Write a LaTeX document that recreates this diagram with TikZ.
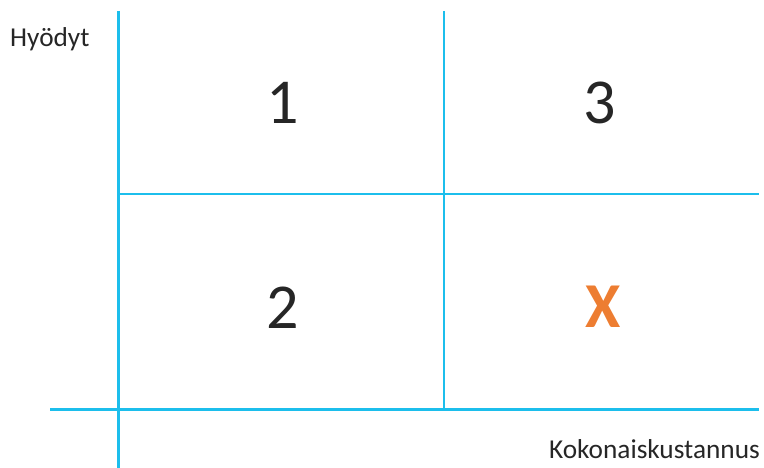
\documentclass[tikz,border=0pt]{standalone}
\usepackage{fontspec}
\setmainfont{Carlito}
\definecolor{axiscyan}{RGB}{28,190,236}
\definecolor{xorange}{RGB}{237,125,49}
\definecolor{txt}{RGB}{38,38,38}
\begin{document}
\begin{tikzpicture}[x=1pt,y=-1pt,
  gridline/.style={draw=axiscyan,line width=2.6pt},
  lbl/.style={inner sep=0pt,text=txt,font=\fontsize{27.3}{30}\selectfont},
  num/.style={inner sep=0pt,anchor=base,text=txt,font=\fontsize{64}{70}\selectfont}]
\useasboundingbox (0,0) rectangle (764,468);
\coordinate (v1t) at (118.5,11);
\coordinate (v1b) at (118.5,468);
\coordinate (v2t) at (444,11);
\coordinate (v2b) at (444,409.5);
\coordinate (h1l) at (118.5,194);
\coordinate (h1r) at (759,194);
\coordinate (h2l) at (50,409.5);
\coordinate (h2r) at (759,409.5);
\draw[gridline] (v1t) -- (v1b);
\draw[gridline] (v2t) -- (v2b);
\draw[gridline] (h1l) -- (h1r);
\draw[gridline] (h2l) -- (h2r);
\node[lbl,anchor=base west] (yl) at (10,47) {Hyödyt};
\node[lbl,anchor=base east] (xl) at (760,458) {Kokonaiskustannus};
\node[num] (n1) at (283,124) {1};
\node[num] (n3) at (600,124) {3};
\node[num] (n2) at (283,328) {2};
\node[num,text=xorange,font=\fontsize{64}{70}\selectfont\bfseries] (nx) at (603,327) {X};
\end{tikzpicture}
\end{document}
